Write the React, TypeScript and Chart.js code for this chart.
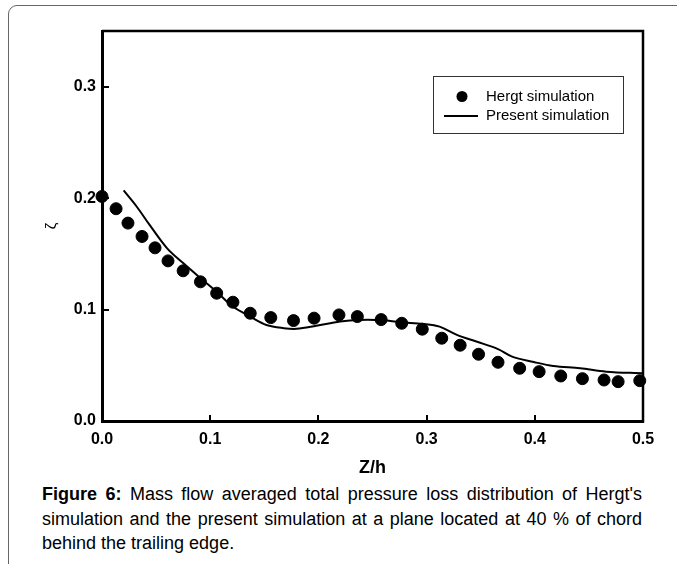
import React, { useEffect, useRef } from 'react';
import { Chart, registerables } from 'chart.js';

Chart.register(...registerables);

// Hergt simulation (dots)
const hergtZ = [0.000, 0.013, 0.024, 0.037, 0.049, 0.061, 0.075, 0.091, 0.106, 0.121, 0.137, 0.156, 0.177, 0.196, 0.219, 0.236, 0.258, 0.277, 0.296, 0.314, 0.331, 0.348, 0.366, 0.386, 0.404, 0.424, 0.444, 0.464, 0.477, 0.497];
const hergtZeta = [0.2015, 0.1905, 0.1776, 0.1656, 0.1554, 0.1437, 0.1348, 0.1249, 0.1147, 0.1066, 0.0967, 0.0928, 0.0901, 0.0923, 0.0952, 0.0937, 0.0910, 0.0877, 0.0824, 0.0743, 0.0680, 0.0599, 0.0527, 0.0473, 0.0443, 0.0404, 0.0380, 0.0368, 0.0353, 0.0362];

// Present simulation (line)
const presentZ = [0.020, 0.032, 0.044, 0.060, 0.075, 0.091, 0.106, 0.121, 0.137, 0.152, 0.168, 0.180, 0.198, 0.220, 0.238, 0.260, 0.275, 0.297, 0.312, 0.328, 0.346, 0.366, 0.379, 0.399, 0.417, 0.442, 0.466, 0.500];
const presentZeta = [0.2069, 0.1925, 0.1760, 0.1552, 0.1417, 0.1282, 0.1159, 0.1027, 0.0937, 0.0862, 0.0833, 0.0827, 0.0854, 0.0892, 0.0907, 0.0904, 0.0886, 0.0871, 0.0847, 0.0773, 0.0713, 0.0645, 0.0578, 0.0530, 0.0494, 0.0473, 0.0443, 0.0428];

const xTicks = [0, 0.1, 0.2, 0.3, 0.4, 0.5];
const xTickLabels = ['0.0', '0.1', '0.2', '0.3', '0.4', '0.5'];
const yTicks = [0, 0.1, 0.2, 0.3];
const yTickLabels = ['0.0', '0.1', '0.2', '0.3'];

const seriesNames = ['Hergt simulation', 'Present simulation'];
const xTitle = 'Z/h';
const yTitle = 'ζ';

const captionBold = 'Figure 6:';
const captionLines = [
  ' Mass flow averaged total pressure loss distribution of Hergt\'s',
  'simulation and the present simulation at a plane located at 40 % of chord',
  'behind the trailing edge.',
];

const FONT = '"Liberation Sans", Arial, sans-serif';

const decorPlugin = {
  id: 'decor',
  afterDraw(chart: any) {
    const { ctx, chartArea } = chart;
    const xs = chart.scales.x;
    const ys = chart.scales.y;
    ctx.save();
    ctx.strokeStyle = '#000';
    // top and right frame
    ctx.lineWidth = 2.5;
    ctx.beginPath();
    ctx.moveTo(chartArea.left, chartArea.top);
    ctx.lineTo(chartArea.right, chartArea.top);
    ctx.lineTo(chartArea.right, chartArea.bottom + 1.5);
    ctx.stroke();
    // inward ticks
    ctx.lineWidth = 2;
    ctx.beginPath();
    xTicks.forEach((v) => {
      if (v <= 0 || v >= 0.5) return;
      const px = Math.round(xs.getPixelForValue(v));
      ctx.moveTo(px, chartArea.bottom);
      ctx.lineTo(px, chartArea.bottom - 6);
    });
    yTicks.forEach((v) => {
      if (v <= 0) return;
      const py = Math.round(ys.getPixelForValue(v));
      ctx.moveTo(chartArea.left, py);
      ctx.lineTo(chartArea.left + 7, py);
    });
    ctx.stroke();

    // legend
    const bx = 433.5, by = 76.5, bw = 190, bh = 57;
    ctx.lineWidth = 1;
    ctx.strokeStyle = '#333';
    ctx.strokeRect(bx, by, bw, bh);
    ctx.fillStyle = '#000';
    ctx.beginPath();
    ctx.arc(462, 96.5, 5.5, 0, Math.PI * 2);
    ctx.fill();
    ctx.lineWidth = 2;
    ctx.strokeStyle = '#000';
    ctx.beginPath();
    ctx.moveTo(444, 116);
    ctx.lineTo(478, 116);
    ctx.stroke();
    ctx.font = '15px ' + FONT;
    ctx.textBaseline = 'middle';
    ctx.textAlign = 'left';
    ctx.fillText(seriesNames[0], 486, 97);
    ctx.fillText(seriesNames[1], 486, 116);
    ctx.restore();
  },
};

function ChartCanvas() {
  const ref = useRef<HTMLCanvasElement | null>(null);
  useEffect(() => {
    if (!ref.current) return;
    const chart = new Chart(ref.current, {
      type: 'scatter',
      data: {
        datasets: [
          {
            label: seriesNames[0],
            data: hergtZ.map((x, i) => ({ x, y: hergtZeta[i] })),
            backgroundColor: '#000',
            borderColor: '#000',
            pointRadius: 6,
            pointHoverRadius: 6,
            showLine: false,
            clip: false as any,
          },
          {
            label: seriesNames[1],
            data: presentZ.map((x, i) => ({ x, y: presentZeta[i] })),
            borderColor: '#000',
            backgroundColor: '#000',
            borderWidth: 2,
            pointRadius: 0,
            showLine: true,
            tension: 0.35,
            clip: false as any,
          },
        ],
      },
      options: {
        animation: false,
        responsive: false,
        devicePixelRatio: 1,
        events: [],
        layout: { padding: { left: 0, top: 31, right: 34, bottom: 0 } },
        plugins: {
          legend: { display: false },
          tooltip: { enabled: false },
        },
        scales: {
          x: {
            type: 'linear',
            min: 0,
            max: 0.5,
            afterFit: (s: any) => { s.height = 59; },
            afterBuildTicks: (s: any) => { s.ticks = xTicks.map((v) => ({ value: v })); },
            grid: { display: false, drawTicks: false },
            border: { display: true, width: 3, color: '#000' },
            ticks: {
              padding: 9,
              color: '#000',
              font: { family: FONT, size: 16, weight: 'bold' },
              callback: (v: any) => {
                const i = xTicks.findIndex((t) => Math.abs(t - v) < 1e-9);
                return i >= 0 ? xTickLabels[i] : '';
              },
              maxRotation: 0,
            },
            title: {
              display: true,
              text: xTitle,
              color: '#000',
              font: { family: FONT, size: 18, weight: 'bold' },
              padding: { top: 0, bottom: 1 },
            },
          },
          y: {
            type: 'linear',
            min: 0,
            max: 0.35,
            afterFit: (s: any) => { s.width = 102; },
            afterBuildTicks: (s: any) => { s.ticks = yTicks.map((v) => ({ value: v })); },
            grid: { display: false, drawTicks: false },
            border: { display: true, width: 3, color: '#000' },
            ticks: {
              padding: 6,
              color: '#000',
              font: { family: FONT, size: 16, weight: 'bold' },
              callback: (v: any) => {
                const i = yTicks.findIndex((t) => Math.abs(t - v) < 1e-9);
                return i >= 0 ? yTickLabels[i] : '';
              },
            },
            title: {
              display: true,
              text: yTitle,
              color: '#000',
              font: { family: FONT, size: 15, weight: 'normal' },
              padding: { top: 43, bottom: 0 },
            },
          },
        },
      },
      plugins: [decorPlugin],
    } as any);
    return () => chart.destroy();
  }, []);
  return (
    <canvas
      ref={ref}
      width={677}
      height={480}
      style={{ position: 'absolute', left: 0, top: 0, width: 677, height: 480, display: 'block' }}
    />
  );
}

export default function App() {
  const lineStyle: React.CSSProperties = {
    position: 'absolute',
    left: 42,
    width: 600,
    fontFamily: FONT,
    fontSize: 18,
    lineHeight: '24px',
    color: '#000',
    whiteSpace: 'nowrap',
  };
  return (
    <div
      style={{
        position: 'fixed',
        left: 0,
        top: 0,
        width: 677,
        height: 564,
        overflow: 'hidden',
        background: '#fff',
      }}
    >
      <div
        style={{
          position: 'absolute',
          left: 8,
          top: 5,
          width: 720,
          height: 620,
          border: '1px solid #666',
          borderRadius: 9,
          boxSizing: 'border-box',
        }}
      />
      <ChartCanvas />
      <div style={{ ...lineStyle, top: 482, textAlign: 'justify', textAlignLast: 'justify', whiteSpace: 'normal' }}>
        <b>{captionBold}</b>
        {captionLines[0]}
      </div>
      <div style={{ ...lineStyle, top: 507, textAlign: 'justify', textAlignLast: 'justify', whiteSpace: 'normal' }}>
        {captionLines[1]}
      </div>
      <div style={{ ...lineStyle, top: 531, textAlign: 'left' }}>{captionLines[2]}</div>
    </div>
  );
}
